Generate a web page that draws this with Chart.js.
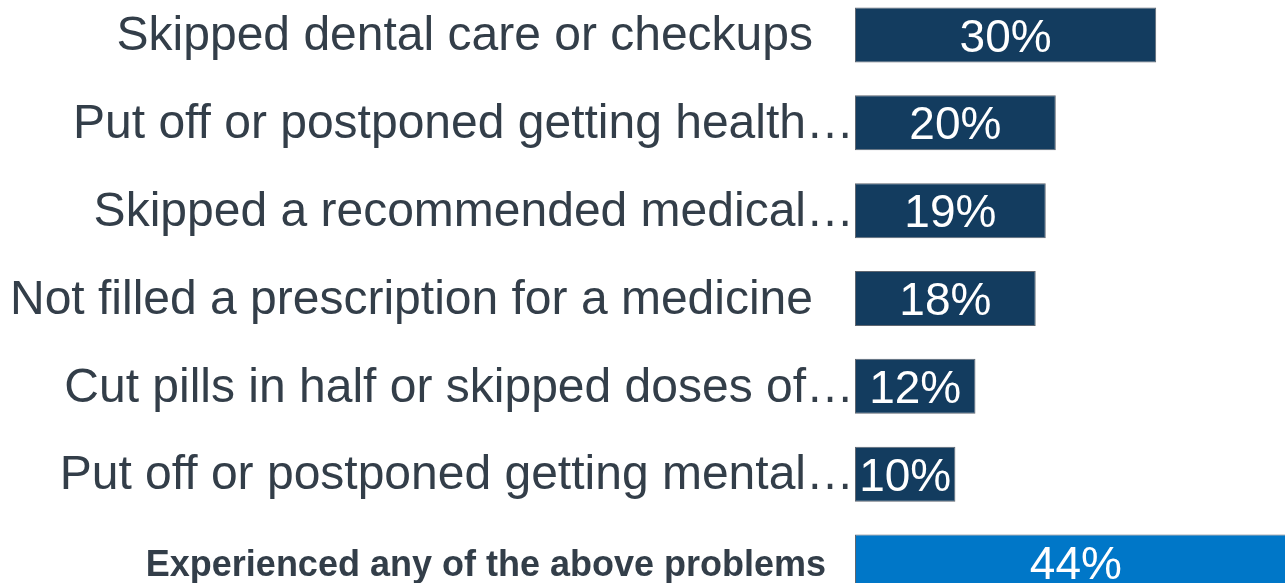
<!DOCTYPE html>
<html>
<head>
<meta charset="utf-8">
<title>Cost related problems</title>
<script src="https://cdn.jsdelivr.net/npm/chart.js@4/dist/chart.umd.min.js"></script>
<style>
  html, body { margin: 0; padding: 0; background: #fff; overflow: hidden; }
  .chart_box { position: absolute; left: 0; top: -9px; }
</style>
</head>
<body>
<div class="chart_box">
  <canvas id="myChart" width="1357" height="615"></canvas>
</div>
<script>
// data
const categories = [
  'Skipped dental care or checkups',
  'Put off or postponed getting health\u2026',
  'Skipped a recommended medical\u2026',
  'Not filled a prescription for a medicine',
  'Cut pills in half or skipped doses of\u2026',
  'Put off or postponed getting mental\u2026',
  'Experienced any of the above problems'
];
const percents = [30, 20, 19, 18, 12, 10, 44];
const barColors = ['#133c5f', '#133c5f', '#133c5f', '#133c5f', '#133c5f', '#133c5f', '#0077c8'];

const labelFont = '"Liberation Sans", Arial, sans-serif';
const lastIndex = categories.length - 1;

// start labels plugin (left side texts)
const sideLabels = {
  id: 'sideLabels',
  afterDraw(chart) {
    let ctx = chart.ctx;
    let yScale = chart.scales.y;
    let left = chart.chartArea.left;
    ctx.save();
    ctx.fillStyle = '#333e49';
    ctx.textAlign = 'right';
    ctx.textBaseline = 'middle';
    categories.forEach((text, i) => {
      let y = yScale.getPixelForValue(i);
      let gap = 42;
      if (i == lastIndex) {
        ctx.font = 'bold 36px ' + labelFont;
        gap = 29;
        y += 4;
      } else {
        ctx.font = '48px ' + labelFont;
        y += 2;
        if (text.endsWith('\u2026')) gap = 1;
      }
      ctx.fillText(text, left - gap, y);
    });
    ctx.restore();
  }
};

// values inside the bars
const barValues = {
  id: 'barValues',
  afterDatasetsDraw(chart) {
    let ctx = chart.ctx;
    let meta = chart.getDatasetMeta(0);
    ctx.save();
    ctx.fillStyle = '#ffffff';
    ctx.font = '46px ' + labelFont;
    ctx.textAlign = 'center';
    ctx.textBaseline = 'middle';
    meta.data.forEach((bar, i) => {
      let x = (bar.base + bar.x) / 2;
      ctx.fillText(percents[i] + '%', x, bar.y + 4);
    });
    ctx.restore();
  }
};

// start chart
let ctx = document.getElementById('myChart').getContext('2d');
let chart = new Chart(ctx, {
  type: 'bar',
  data: {
    labels: categories,
    datasets: [{
      data: percents,
      backgroundColor: barColors,
      borderColor: '#5f6670',
      borderWidth: 1,
      borderSkipped: false,
      categoryPercentage: 1,
      barPercentage: 0.626
    }]
  },
  options: {
    indexAxis: 'y',
    responsive: false,
    animation: false,
    devicePixelRatio: 1,
    layout: { padding: { left: 855, right: 0, top: 0, bottom: 0 } },
    plugins: {
      legend: { display: false },
      tooltip: { enabled: false }
    },
    scales: {
      x: { display: false, min: 0, max: 50 },
      y: { display: false }
    }
  },
  plugins: [sideLabels, barValues]
});
// End chart
</script>
</body>
</html>
